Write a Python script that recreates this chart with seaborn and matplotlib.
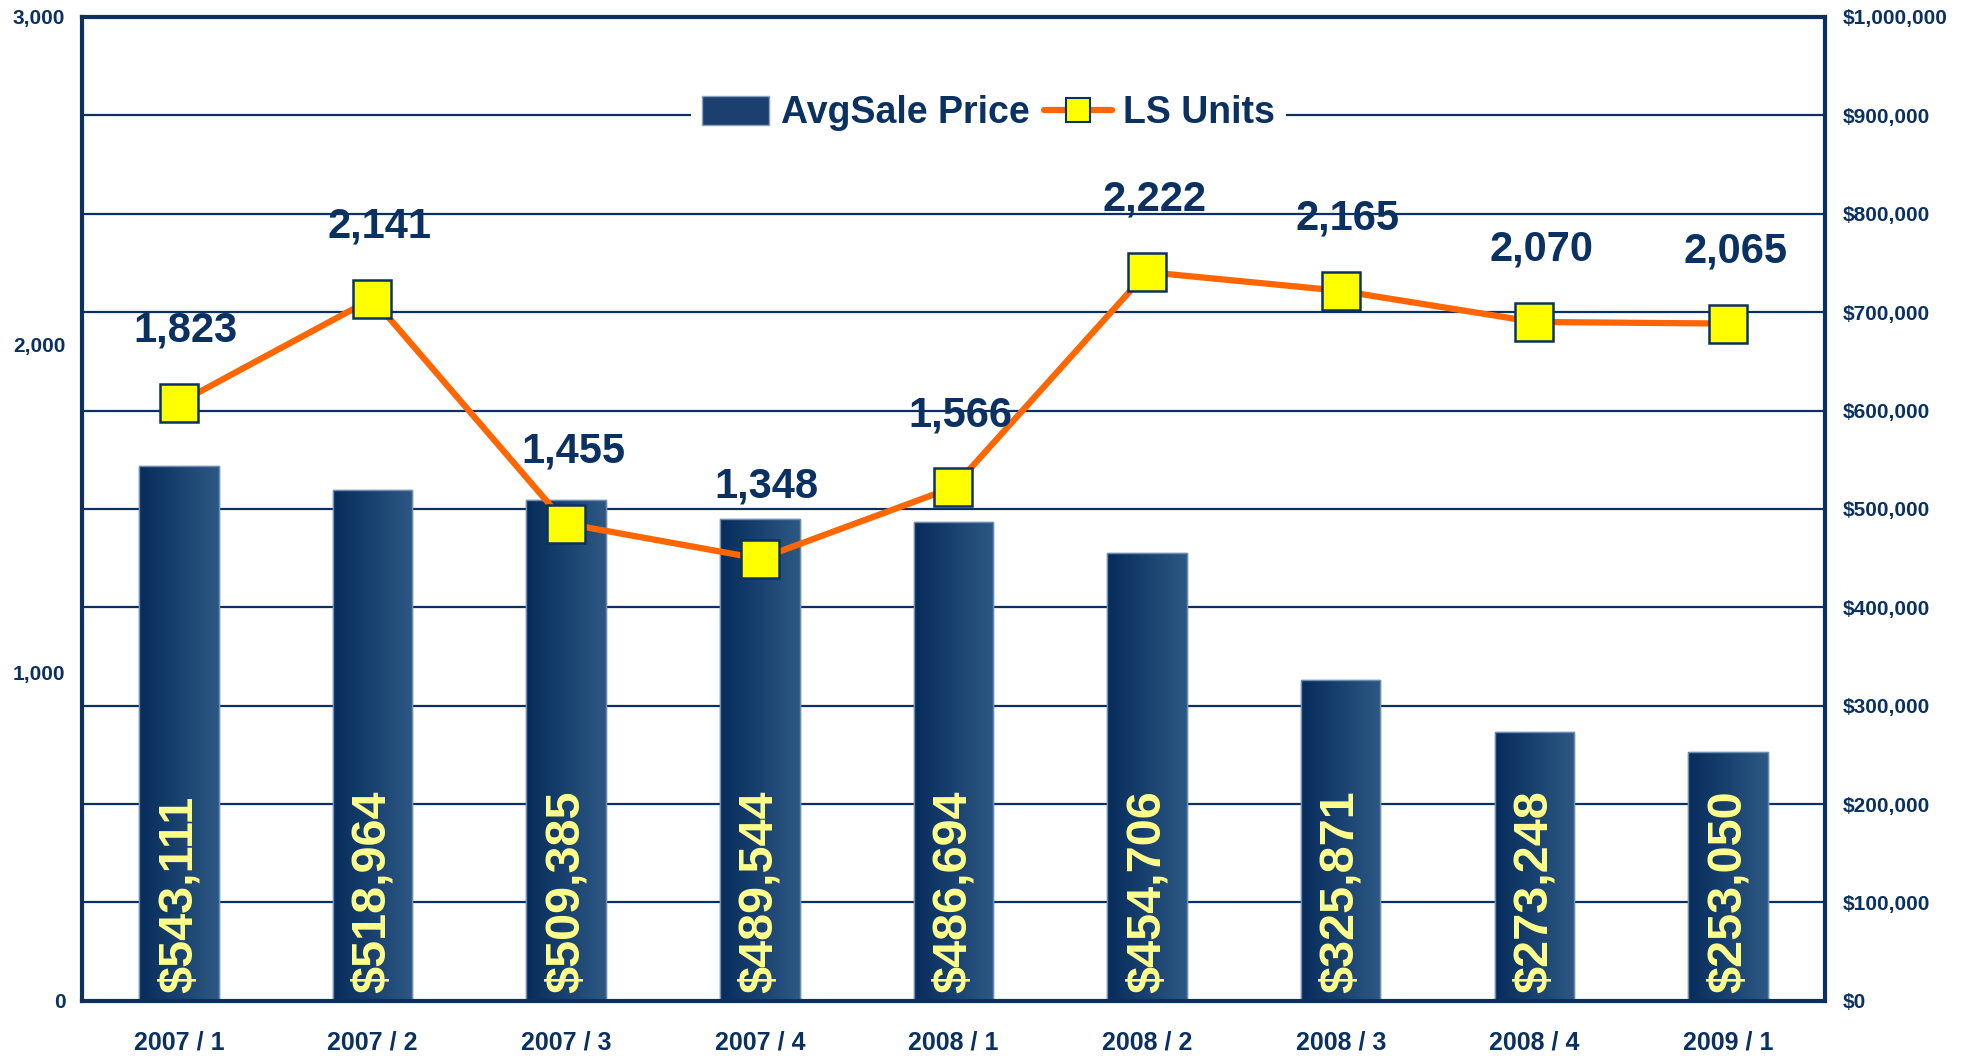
import numpy as np
import pandas as pd
import matplotlib
matplotlib.use("Agg")
import matplotlib.pyplot as plt
import seaborn as sns
from matplotlib.colors import LinearSegmentedColormap
from matplotlib.patches import Patch
from matplotlib.lines import Line2D
from matplotlib.ticker import FuncFormatter

# quarterly figures
periods = ['2007 / 1', '2007 / 2', '2007 / 3', '2007 / 4', '2008 / 1',
           '2008 / 2', '2008 / 3', '2008 / 4', '2009 / 1']
avg_price = [543111, 518964, 509385, 489544, 486694, 454706, 325871, 273248, 253050]
ls_units = [1823, 2141, 1455, 1348, 1566, 2222, 2165, 2070, 2065]

price_ticks = list(range(0, 1000001, 100000))
unit_ticks = [0, 1000, 2000, 3000]

navy = '#0a3162'
orange = '#ff6600'
yellow = '#ffff00'
label_yellow = '#ffff8c'

sns.set_style("white")
plt.rcParams['font.family'] = ['Liberation Sans', 'DejaVu Sans']
plt.rcParams['font.weight'] = 'bold'

df = pd.DataFrame({'period': periods, 'price': avg_price, 'units': ls_units})

fig = plt.figure(figsize=(19.71, 10.58), dpi=100)
ax = fig.add_axes([0.0416, 0.054, 0.8843, 0.930])

# bars on the price scale (shown on the right)
sns.barplot(data=df, x='period', y='price', ax=ax, color='#1b406f',
            width=0.41, edgecolor='#6f8db2', linewidth=1, zorder=2)

# horizontal gradient fill inside each bar
grad_cmap = LinearSegmentedColormap.from_list('bar', ['#062c5c', '#2d5884'])
grad = np.linspace(0, 1, 256).reshape(1, -1)
for p in list(ax.patches):
    x0, w, h = p.get_x(), p.get_width(), p.get_height()
    im = ax.imshow(grad, cmap=grad_cmap, extent=[x0, x0 + w, 0, h],
                   aspect='auto', interpolation='bicubic', zorder=2.1)
    im.set_clip_path(p)
    ax.add_patch(plt.Rectangle((x0, 0), w, h, fill=False,
                               edgecolor='#6f8db2', linewidth=1, zorder=2.2))

for i, v in enumerate(avg_price):
    ax.annotate(f"${v:,}", (i, 0), xytext=(0, 6), textcoords='offset points',
                rotation=90, ha='center', va='bottom', fontsize=35,
                color=label_yellow, zorder=3)

ax.set_ylim(0, 1000000)
ax.set_yticks(price_ticks)
ax.yaxis.set_major_formatter(FuncFormatter(lambda v, _: f"${v:,.0f}"))
ax.yaxis.grid(True, color=navy, linewidth=1.6)
ax.set_axisbelow(True)
ax.set_xlabel('')
ax.set_ylabel('')
for s in ax.spines.values():
    s.set_visible(True)
    s.set_color(navy)
    s.set_linewidth(3)

# units line on the left scale
ax2 = ax.twinx()
x_pos = np.arange(len(periods))
sns.lineplot(x=x_pos, y=ls_units, ax=ax2, color=orange, linewidth=4.5,
             marker='s', markersize=28, markerfacecolor=yellow,
             markeredgecolor=navy, markeredgewidth=1.8, zorder=5)
ax2.set_ylim(0, 3000)
ax2.set_yticks(unit_ticks)
ax2.yaxis.set_major_formatter(FuncFormatter(lambda v, _: f"{v:,.0f}"))
ax2.yaxis.tick_left()
ax2.set_ylabel('')
ax2.tick_params(axis='y', labelsize=15, pad=12, length=0, labelcolor=navy,
                labelleft=True, labelright=False)
for s in ax2.spines.values():
    s.set_visible(False)

# twinx moves the first axis ticks to the left, put them back on the right
ax.yaxis.tick_right()
ax.tick_params(axis='y', labelsize=15, pad=13, length=0, labelcolor=navy,
               labelleft=False, labelright=True)
ax.tick_params(axis='x', labelsize=18, pad=21, length=0, labelcolor=navy)

for i, v in enumerate(ls_units):
    ax2.annotate(f"{v:,}", (i, v), xytext=(5, 52), textcoords='offset points',
                 ha='center', va='center', fontsize=30, color=navy, zorder=6)

handles = [Patch(facecolor='#1b406f', edgecolor='#8aa0bd'),
           Line2D([0], [0], color=orange, linewidth=4.5, marker='s', markersize=17,
                  markerfacecolor=yellow, markeredgecolor=navy, markeredgewidth=1.5)]
leg = ax2.legend(handles, ['AvgSale Price', 'LS Units'], loc='center',
                 bbox_to_anchor=(0.52, 0.902), ncol=2, frameon=True,
                 facecolor='white', edgecolor='none', framealpha=1, fancybox=False,
                 prop=dict(size=27, weight='bold'), labelcolor=navy,
                 handlelength=1.8, handleheight=0.8, handletextpad=0.3,
                 columnspacing=0.4, borderpad=0.3)

ax.set_xlim(-0.5, len(periods) - 0.5)

fig.savefig("out.png", dpi=100)
